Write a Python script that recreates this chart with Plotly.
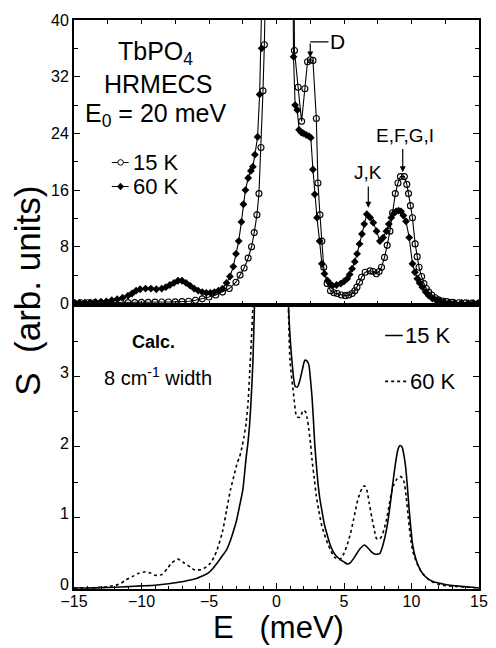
import plotly.graph_objects as go

# ---------------- data: measured spectra (top panel) ----------------
x_15k_meas = [-15.0, -14.5, -14.0, -13.5, -13.0, -12.5, -12.0, -11.5, -11.0, -10.5, -10.0, -9.5, -9.0,
              -8.5, -8.0, -7.5, -7.0, -6.5, -6.0, -5.5, -5.0, -4.5, -4.0, -3.5, -3.0, -2.7, -2.4, -2.1,
              -1.85, -1.65, -1.45, -1.3, -1.15, -1.0, -0.9, -0.7, 0.2, 1.2, 1.33, 1.6, 1.86, 2.1, 2.3,
              2.5, 2.7, 2.95, 3.07, 3.22, 3.36, 3.5, 3.75, 4.0, 4.25, 4.5, 4.8, 5.1, 5.35, 5.6, 5.8, 5.96,
              6.15, 6.3, 6.57, 6.93, 7.15, 7.4, 7.6, 7.78, 8.0, 8.2, 8.4, 8.6, 8.8, 9.0, 9.18, 9.47, 9.65,
              9.78, 9.92, 10.07, 10.27, 10.42, 10.56, 10.75, 10.92, 11.1, 11.28, 11.5, 11.75, 12.0, 12.3,
              12.6, 13.0, 13.5, 14.0, 14.5, 15.0]
y_15k_meas = [0.1, 0.1, 0.1, 0.1, 0.1, 0.1, 0.1, 0.1, 0.12, 0.12, 0.15, 0.15, 0.18,
              0.2, 0.2, 0.22, 0.25, 0.3, 0.45, 0.65, 0.9, 1.2, 1.6, 2.1, 3.0, 4.0, 5.0, 6.4,
              8.0, 10.0, 12.5, 15.5, 22.0, 30.0, 36.5, 80.0, 150.0, 80.0, 35.7, 30.5, 25.7, 30.3, 34.1,
              34.4, 34.3, 26.1, 17.0, 12.5, 8.8, 5.1, 2.8, 1.8, 1.5, 1.4, 1.2, 1.1, 1.2, 1.4, 1.8, 2.3,
              3.0, 3.7, 4.4, 4.6, 4.5, 4.2, 4.5, 5.1, 6.5, 8.2, 10.2, 12.8, 15.5, 17.0, 17.9, 17.9, 16.8,
              15.5, 13.8, 12.1, 8.4, 6.6, 5.1, 3.8, 2.8, 2.1, 1.6, 1.2, 0.8, 0.5, 0.35,
              0.25, 0.15, 0.1, 0.08, 0.05, 0.05]

x_60k_meas = [-15.0, -14.6, -14.2, -13.8, -13.4, -13.0, -12.6, -12.2, -11.8, -11.4, -11.0, -10.7, -10.4,
              -10.1, -9.7, -9.3, -8.9, -8.5, -8.2, -7.9, -7.6, -7.3, -7.0, -6.7, -6.4, -6.1, -5.8, -5.5,
              -5.2, -4.9, -4.6, -4.3, -4.0, -3.7, -3.45, -3.2, -3.0, -2.8, -2.6, -2.45, -2.3, -2.1, -1.9,
              -1.75, -1.6, -1.4, -1.25, -1.1, -0.95, 0.2, 1.15, 1.26, 1.38, 1.54, 1.67, 1.85, 2.0, 2.2,
              2.4, 2.54, 2.7, 2.83, 3.0, 3.19, 3.36, 3.55, 3.79, 4.0, 4.15, 4.45, 4.76, 5.0, 5.24, 5.42,
              5.6, 5.8, 5.97, 6.15, 6.33, 6.5, 6.69, 6.94, 7.17, 7.41, 7.66, 7.9, 8.14, 8.32, 8.5, 8.68,
              8.86, 9.04, 9.22, 9.4, 9.59, 9.83, 10.07, 10.25, 10.43, 10.6, 10.8, 11.05, 11.28, 11.55,
              11.8, 12.1, 12.4, 12.8, 13.2, 13.7, 14.2, 14.6, 15.0]
y_60k_meas = [0.1, 0.1, 0.1, 0.15, 0.2, 0.25, 0.3, 0.45, 0.6, 0.8, 1.1, 1.4, 1.8,
              2.0, 2.1, 2.1, 2.0, 2.1, 2.3, 2.6, 2.9, 3.2, 3.2, 2.9, 2.5, 2.1, 1.8, 1.6,
              1.5, 1.5, 1.6, 1.8, 2.1, 2.9, 3.8, 5.2, 7.0, 8.8, 11.5, 14.0, 16.0, 17.7, 18.7,
              19.3, 21.0, 23.5, 29.5, 36.0, 50.0, 150.0, 70.0, 34.8, 28.0, 27.3, 24.5, 24.1, 24.0, 23.8,
              23.6, 23.4, 18.9, 15.4, 12.1, 8.8, 5.6, 4.2, 3.2, 2.7, 2.5, 2.6, 2.8, 3.1, 3.5, 4.1,
              4.9, 5.9, 7.0, 8.4, 9.8, 11.2, 12.6, 12.1, 11.4, 10.2, 8.8, 9.3, 10.2, 11.2, 12.1, 12.7,
              13.0, 13.1, 13.0, 12.4, 11.6, 9.3, 5.6, 4.4, 3.5, 2.9, 2.3, 1.6, 1.1, 0.7,
              0.5, 0.35, 0.25, 0.15, 0.1, 0.1, 0.05, 0.05, 0.05]

# ---------------- data: calculated spectra (bottom panel) ----------------
x_15k_calc = [-15.0, -14.0, -13.0, -12.0, -11.0, -10.0, -9.0, -8.0, -7.5, -7.0, -6.5, -6.0, -5.5, -5.07,
              -4.7, -4.3, -4.0, -3.7, -3.4, -3.2, -2.97, -2.75, -2.49, -2.25, -2.12, -2.0, -1.88, -1.75,
              -1.64, -1.5, 0.0, 0.7, 0.89, 1.14, 1.38, 1.55, 1.74, 1.92, 2.1, 2.25, 2.4, 2.52, 2.63, 2.73,
              2.83, 2.95, 3.07, 3.2, 3.36, 3.55, 3.79, 4.0, 4.28, 4.5, 4.76, 5.0, 5.24, 5.48, 5.72, 5.95,
              6.2, 6.52, 6.81, 7.05, 7.3, 7.5, 7.66, 7.9, 8.14, 8.38, 8.62, 8.8, 8.99, 9.15, 9.3, 9.45,
              9.59, 9.71, 9.83, 9.95, 10.07, 10.25, 10.43, 10.7, 11.04, 11.5, 12.0, 12.5, 13.0, 13.9,
              14.5, 15.0]
y_15k_calc = [0.0, 0.0, 0.005, 0.01, 0.02, 0.03, 0.04, 0.06, 0.075, 0.09, 0.11, 0.13, 0.17, 0.21,
              0.28, 0.38, 0.46, 0.54, 0.68, 0.8, 0.95, 1.15, 1.4, 1.85, 2.05, 2.3, 2.67, 3.2,
              3.94, 5.0, 20.0, 6.0, 4.0, 3.23, 2.86, 2.85, 2.95, 3.1, 3.23, 3.22, 3.16, 2.95, 2.71, 2.4,
              2.05, 1.75, 1.49, 1.28, 1.1, 0.9, 0.73, 0.6, 0.49, 0.44, 0.4, 0.37, 0.34, 0.36, 0.42, 0.49,
              0.56, 0.61, 0.56, 0.51, 0.48, 0.48, 0.49, 0.62, 0.82, 1.12, 1.49, 1.75, 1.96, 2.02, 2.0, 1.87,
              1.67, 1.4, 1.1, 0.85, 0.63, 0.46, 0.35, 0.24, 0.16, 0.1, 0.07, 0.05, 0.035, 0.02,
              0.01, 0.0]

x_60k_calc = [-15.0, -14.0, -13.0, -12.5, -11.9, -11.5, -11.2, -10.7, -10.2, -9.7, -9.3, -9.0, -8.5,
              -8.1, -7.8, -7.3, -6.8, -6.4, -6.1, -5.6, -5.2, -4.9, -4.6, -4.4, -4.0, -3.7, -3.4, -3.1,
              -2.9, -2.73, -2.6, -2.4, -2.25, -2.1, -2.0, -1.88, -1.76, -1.6, 0.0, 0.7, 1.0, 1.26, 1.5,
              1.74, 1.98, 2.15, 2.28, 2.4, 2.52, 2.63, 2.8, 2.95, 3.13, 3.31, 3.55, 3.79, 4.0, 4.28, 4.64,
              4.82, 5.0, 5.25, 5.49, 5.72, 5.96, 6.15, 6.33, 6.52, 6.69, 6.87, 7.05, 7.23, 7.41, 7.6, 7.78,
              7.96, 8.14, 8.32, 8.5, 8.68, 8.86, 9.04, 9.22, 9.35, 9.47, 9.6, 9.71, 9.83, 9.95, 10.1, 10.3,
              10.55, 10.8, 11.15, 11.5, 12.0, 12.7, 13.5, 14.3, 15.0]
y_60k_calc = [0.0, 0.0, 0.01, 0.02, 0.04, 0.07, 0.11, 0.16, 0.21, 0.23, 0.21, 0.18, 0.19,
              0.27, 0.35, 0.41, 0.35, 0.3, 0.26, 0.26, 0.3, 0.35, 0.45, 0.54, 0.8, 1.1, 1.4, 1.63,
              1.78, 1.86, 1.96, 2.15, 2.34, 2.65, 3.0, 3.45, 3.94, 5.0, 20.0, 6.0, 3.23, 2.76, 2.43,
              2.42, 2.52, 2.5, 2.4, 2.24, 2.05, 1.82, 1.55, 1.3, 1.1, 0.92, 0.76, 0.63, 0.54, 0.44, 0.4,
              0.43, 0.49, 0.62, 0.78, 0.98, 1.2, 1.33, 1.41, 1.45, 1.39, 1.2, 1.01, 0.84, 0.7, 0.69, 0.73,
              0.83, 0.96, 1.15, 1.34, 1.46, 1.53, 1.57, 1.58, 1.55, 1.49, 1.3, 1.1, 0.88, 0.68, 0.52, 0.4,
              0.29, 0.21, 0.14, 0.09, 0.05, 0.03, 0.02, 0.01, 0.0]

x_ticks = [-15, -10, -5, 0, 5, 10, 15]
y_ticks_meas = [0, 8, 16, 24, 32, 40]
y_ticks_calc = [0, 1, 2, 3]

FONT = "Liberation Sans, Arial, Helvetica, sans-serif"

fig = go.Figure()

# measured (top panel) -> x2 / y2
fig.add_trace(go.Scatter(x=x_15k_meas, y=y_15k_meas, xaxis="x2", yaxis="y2", mode="lines+markers",
                         line=dict(color="black", width=1.1),
                         marker=dict(symbol="circle-open", size=6, color="black", line=dict(width=1.1)),
                         showlegend=False))
fig.add_trace(go.Scatter(x=x_60k_meas, y=y_60k_meas, xaxis="x2", yaxis="y2", mode="lines+markers",
                         line=dict(color="black", width=1.1),
                         marker=dict(symbol="diamond", size=6, color="black"),
                         showlegend=False))
# calculated (bottom panel) -> x / y
fig.add_trace(go.Scatter(x=x_15k_calc, y=y_15k_calc, mode="lines",
                         line=dict(color="black", width=1.6, shape="spline", smoothing=0.6),
                         showlegend=False))
fig.add_trace(go.Scatter(x=x_60k_calc, y=y_60k_calc, mode="lines",
                         line=dict(color="black", width=1.6, dash="dot", shape="spline", smoothing=0.6),
                         showlegend=False))

tickfont = dict(family=FONT, size=16, color="black")
common_x = dict(range=[-15, 15], showline=True, linecolor="black", linewidth=2,
                showgrid=False, zeroline=False, ticks="inside", tickcolor="black")

fig.update_layout(
    width=496, height=648,
    margin=dict(l=74, r=8, t=20, b=59),
    paper_bgcolor="white", plot_bgcolor="white",
    font=dict(family=FONT, color="black"),
    xaxis=dict(**common_x, anchor="y", domain=[0, 1], tickvals=x_ticks, ticklen=6, tickwidth=1.3,
               minor=dict(dtick=1, ticks="inside", ticklen=3, tickwidth=1, tickcolor="black"),
               tickfont=tickfont, mirror=True, ticklabelstandoff=-3),
    yaxis=dict(domain=[0, 0.5], range=[-0.014, 4.02], anchor="x", showline=True, linecolor="black",
               linewidth=2, mirror="ticks", showgrid=False, zeroline=False, ticks="inside",
               tickvals=y_ticks_calc, ticklen=6, tickwidth=1.3, tickcolor="black", tickfont=tickfont,
               ticklabelshift=-4,
               minor=dict(dtick=0.5, tick0=0, ticks="inside", ticklen=4, tickwidth=1, tickcolor="black")),
    xaxis2=dict(**common_x, anchor="y2", matches="x", side="bottom", dtick=2.5, tick0=0,
                ticklen=4, tickwidth=1, showticklabels=False, mirror=True),
    xaxis3=dict(range=[-15, 15], overlaying="x2", anchor="y2", side="top", matches="x",
                showline=False, showgrid=False, zeroline=False, ticks="inside", dtick=2.5, tick0=0,
                ticklen=4, tickwidth=1, tickcolor="black", showticklabels=False),
    yaxis2=dict(domain=[0.5, 1], range=[-0.15, 40], anchor="x2", showline=True, linecolor="black",
                linewidth=2, mirror="ticks", showgrid=False, zeroline=False, ticks="inside",
                tickvals=y_ticks_meas, ticklen=6, tickwidth=1.3, tickcolor="black", tickfont=tickfont,
                minor=dict(dtick=4, tick0=0, ticks="inside", ticklen=4, tickwidth=1, tickcolor="black")),
)

# invisible trace so the top-edge tick axis is drawn
fig.add_trace(go.Scatter(x=[x_15k_meas[0]], y=[y_15k_meas[0]], xaxis="x3", yaxis="y2",
                         mode="markers", marker=dict(opacity=0), showlegend=False, hoverinfo="skip"))

ann = []
def text(x, y, s, size, xref="x2", yref="y2", xanchor="center", **kw):
    ann.append(dict(x=x, y=y, xref=xref, yref=yref, text=s, showarrow=False, xanchor=xanchor,
                    yanchor="middle", font=dict(family=FONT, size=size, color="black"), **kw))

# sample labels (top)
text(-9.0, 35.4, "TbPO<sub>4</sub>", 25)
text(-8.8, 30.9, "HRMECS", 25)
text(-9.0, 26.6, "E<sub>0</sub> = 20 meV", 25)
# legend texts (top)
text(-10.75, 19.9, "15 K", 22, xanchor="left")
text(-10.75, 16.5, "60 K", 22, xanchor="left")
# peak labels (top)
text(4.5, 36.9, "D", 21)
text(6.8, 18.5, "J,K", 19)
text(9.5, 23.7, "E,F,G,I", 19)
for (xa, y0, y1) in [(2.5, 36.9, 34.7), (6.8, 16.7, 13.5), (9.35, 22.0, 18.5)]:
    ann.append(dict(x=xa, y=y1, ax=xa, ay=y0, xref="x2", yref="y2", axref="x2", ayref="y2",
                    text="", showarrow=True, arrowhead=2, arrowsize=1, arrowwidth=1.2,
                    arrowcolor="black"))

# bottom panel texts
text(-9.1, 3.49, "<b>Calc.</b>", 18, xref="x", yref="y")
text(-8.8, 3.0, "8 cm<sup>-1</sup> width", 20, xref="x", yref="y")
text(9.4, 3.58, "15 K", 22, xref="x", yref="y", xanchor="left")
text(9.75, 2.93, "60 K", 22, xref="x", yref="y", xanchor="left")

# axis titles
ann.append(dict(x=-0.115, y=0.525, xref="paper", yref="paper", text="S  (arb. units)", showarrow=False,
                textangle=-90, xanchor="center", yanchor="middle",
                font=dict(family=FONT, size=35, color="black")))
ann.append(dict(x=0.505, y=-0.1005, xref="paper", yref="paper", text="E   (meV)", showarrow=False,
                xanchor="center", yanchor="bottom", borderpad=0,
                font=dict(family=FONT, size=31, color="black")))

fig.update_layout(annotations=ann)

shapes = [
    # D label leader
    dict(type="line", xref="x2", yref="y2", x0=2.5, x1=3.85, y0=36.9, y1=36.9,
         line=dict(color="black", width=1.2)),
    # top legend keys
    dict(type="line", xref="x2", yref="y2", x0=-12.2, x1=-10.95, y0=19.9, y1=19.9,
         line=dict(color="black", width=1.1)),
    dict(type="circle", xref="x2", yref="y2", xsizemode="pixel", ysizemode="pixel",
         xanchor=-11.55, yanchor=19.9, x0=-2.8, x1=2.8, y0=-2.8, y1=2.8,
         fillcolor="white", line=dict(color="black", width=1)),
    dict(type="line", xref="x2", yref="y2", x0=-12.2, x1=-10.95, y0=16.5, y1=16.5,
         line=dict(color="black", width=1.1)),
    dict(type="path", xref="x2", yref="y2", xsizemode="pixel", ysizemode="pixel",
         xanchor=-11.55, yanchor=16.5, path="M0,3.5 L3.2,0 L0,-3.5 L-3.2,0 Z",
         fillcolor="black", line=dict(color="black", width=0.5)),
    # bottom legend keys
    dict(type="line", xref="x", yref="y", x0=8.05, x1=9.35, y0=3.58, y1=3.58,
         line=dict(color="black", width=1.6)),
    dict(type="line", xref="x", yref="y", x0=8.05, x1=9.7, y0=2.93, y1=2.93,
         line=dict(color="black", width=1.6, dash="dot")),
]
fig.update_layout(shapes=shapes)

fig.write_html("out.html")
